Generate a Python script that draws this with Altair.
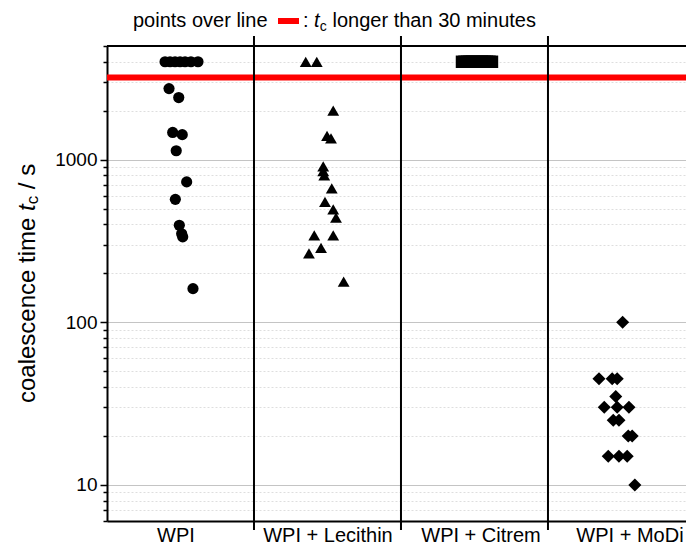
import altair as alt
import pandas as pd

# ---------------- data ----------------
groups = ["WPI", "WPI + Lecithin", "WPI + Citrem", "WPI + MoDi"]
group_pos = [1, 2, 3, 4]
shapes = ["circle", "triangle-up", "square", "diamond"]
sizes = [125, 170, 88, 145]

wpi_t = [4000, 4000, 4000, 4000, 4000, 4000, 4000, 2735, 2410, 1470, 1425, 1135,
         730, 570, 395, 350, 335, 161]
wpi_dx = [-0.105, -0.071, -0.037, -0.003, 0.031, 0.071, 0.119, -0.078, -0.012,
          -0.053, 0.012, -0.029, 0.042, -0.035, -0.008, 0.008, 0.015, 0.085]

lec_t = [4000, 4000, 2000, 1400, 1350, 910, 850, 800, 665, 550, 495, 440, 342,
         342, 287, 265, 178]
lec_dx = [-0.148, -0.073, 0.039, -0.003, 0.024, -0.029, -0.029, -0.022, 0.029,
          -0.017, 0.039, 0.058, -0.090, 0.039, -0.044, -0.126, 0.110]

cit_t = [4000, 4000, 4000, 4000, 4000, 4000, 4000, 4000, 4000, 4000, 4000, 4000, 4000]
cit_dx = [-0.085, -0.068, -0.051, -0.034, -0.017, 0.0, 0.017, 0.034, 0.051, 0.068,
          0.085, 0.102, 0.119]

modi_t = [100, 45, 45, 45, 35, 30, 30, 30, 25, 25, 20, 20, 15, 15, 15, 10]
modi_dx = [0.008, -0.153, -0.063, -0.029, -0.039, -0.117, -0.029, 0.051, -0.056,
           -0.017, 0.046, 0.073, -0.090, -0.017, 0.039, 0.091]

separators = [1.5, 2.5, 3.5]
threshold = [3200]
major_ticks = [10, 100, 1000]
minor_ticks = [6, 7, 8, 9, 20, 30, 40, 50, 60, 70, 80, 90, 200, 300, 400, 500, 600,
               700, 800, 900, 2000, 3000, 4000, 5000]

# ---------------- tables ----------------
rows = []
for g, p, ts, dxs in zip(groups, group_pos, [wpi_t, lec_t, cit_t, modi_t],
                         [wpi_dx, lec_dx, cit_dx, modi_dx]):
    for t, d in zip(ts, dxs):
        rows.append({"group": g, "x": p + d, "t": t})
points_df = pd.DataFrame(rows)
sep_df = pd.DataFrame({"x": separators})
thr_df = pd.DataFrame({"t": threshold})

W, H = 579, 475
FONT = "Liberation Sans"
major_test = "datum.value == 10 || datum.value == 100 || datum.value == 1000"

x_scale = alt.Scale(domain=[0.5, 4.439], nice=False, zero=False)
y_scale = alt.Scale(type="log", domain=[6, 5000], nice=False)

label_expr = ("datum.value == 1 ? 'WPI' : datum.value == 2 ? 'WPI + Lecithin' : "
              "datum.value == 3 ? 'WPI + Citrem' : datum.value == 4 ? 'WPI + MoDi' : ''")

x_axis = alt.Axis(values=group_pos, labelExpr=label_expr, ticks=False, grid=False,
                  domainColor="black", domainWidth=2, labelFontSize=20,
                  labelColor="black", labelFont=FONT, labelPadding=4, title=None,
                  labelOffset={"condition": [
                      {"test": "datum.value == 1", "value": -5},
                      {"test": "datum.value == 3", "value": 6},
                      {"test": "datum.value == 4", "value": 8}], "value": 0})

y_axis = alt.Axis(values=sorted(major_ticks + minor_ticks), format="d",
                  labelExpr="(" + major_test + ") ? datum.label : ''",
                  tickSize={"condition": {"test": major_test, "value": 7}, "value": 4},
                  gridColor={"condition": {"test": major_test, "value": "#c4c4c4"},
                             "value": "#dedede"},
                  gridDash={"condition": {"test": major_test, "value": []},
                            "value": [2, 2]},
                  gridWidth=1, title=None, domainColor="black", domainWidth=2,
                  tickColor="black", tickWidth=1.5, labelFontSize=19,
                  labelPadding=3, labelColor="black", labelFont=FONT)

pts = alt.Chart(points_df).mark_point(filled=True, opacity=1, color="black").encode(
    x=alt.X("x:Q", scale=x_scale, axis=x_axis),
    y=alt.Y("t:Q", scale=y_scale, axis=y_axis),
    shape=alt.Shape("group:N", scale=alt.Scale(domain=groups, range=shapes), legend=None),
    size=alt.Size("group:N", scale=alt.Scale(domain=groups, range=sizes), legend=None),
)

seps = alt.Chart(sep_df).mark_rule(color="black", strokeWidth=2).encode(
    x=alt.X("x:Q", scale=x_scale, axis=x_axis),
    y=alt.value(-10), y2=alt.value(H + 9),
)

red = alt.Chart(thr_df).mark_rule(color="#ff0000", strokeWidth=6).encode(
    y=alt.Y("t:Q", scale=y_scale, axis=y_axis),
    x=alt.value(0), x2=alt.value(W),
)

top_border = alt.Chart(pd.DataFrame({"a": [0]})).mark_rule(color="black", strokeWidth=2).encode(
    x=alt.value(0), x2=alt.value(W), y=alt.value(0),
)

def txt(s, x, y, size=20, style="normal", angle=0, baseline="alphabetic"):
    kw = dict(text=s, font=FONT, fontSize=size, fontStyle=style, color="black",
              align="left", baseline=baseline)
    if angle:
        kw["angle"] = angle
    return alt.Chart(pd.DataFrame({"a": [0]})).mark_text(**kw).encode(
        x=alt.value(x), y=alt.value(y))

# top annotation
ann = [
    txt("points over line", 26, -19),
    txt(":", 196, -19),
    txt("t", 207, -19, style="italic"),
    txt("c", 212.7, -15, size=14),
    txt("longer than 30 minutes", 225.5, -19),
]
swatch = alt.Chart(pd.DataFrame({"a": [0]})).mark_rule(color="#ff0000", strokeWidth=6).encode(
    x=alt.value(171), x2=alt.value(192), y=alt.value(-25))

# y title pieces (rotated)
yt = [
    txt("coalescence time", -79, 357, size=24, angle=270, baseline="middle"),
    txt("t", -79, 165, size=24, style="italic", angle=270, baseline="middle"),
    txt("c", -74, 158.3, size=17, angle=270, baseline="middle"),
    txt("/ s", -79, 143.2, size=24, angle=270, baseline="middle"),
]

chart = alt.layer(red, seps, top_border, pts, swatch, *ann, *yt).properties(
    width=W, height=H,
    autosize=alt.AutoSizeParams(type="none"),
    padding={"left": 107, "top": 46, "right": 0, "bottom": 25},
).configure_view(strokeWidth=0).configure(font=FONT)

chart.save("out.html", embed_options={"renderer": "svg", "actions": False})
